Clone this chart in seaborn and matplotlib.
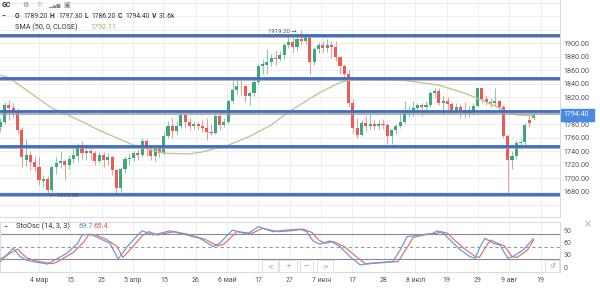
import numpy as np
import matplotlib
matplotlib.use("Agg")
import matplotlib.pyplot as plt
import seaborn as sns
from matplotlib.patches import Rectangle

sns.set_theme(style="white")
plt.rcParams['font.family'] = ['Roboto', 'DejaVu Sans']

# ---------------- data ----------------
opens = [1776, 1784, 1808, 1804, 1799, 1771, 1727, 1735, 1724, 1716,
         1696, 1699, 1683, 1716, 1723, 1726, 1719, 1729, 1733, 1748,
         1737, 1741, 1737, 1725, 1734, 1727, 1732, 1712, 1685, 1713,
         1729, 1730, 1737, 1734, 1755, 1744, 1733, 1745, 1737, 1763,
         1777, 1770, 1778, 1793, 1783, 1777, 1780, 1778, 1774, 1768,
         1767, 1792, 1779, 1784, 1815, 1831, 1837, 1836, 1822, 1827,
         1843, 1866, 1868, 1872, 1878, 1877, 1883, 1898, 1902, 1895,
         1906, 1904, 1909, 1872, 1891, 1897, 1893, 1898, 1895, 1879,
         1866, 1855, 1812, 1774, 1764, 1782, 1778, 1780, 1777, 1781,
         1779, 1762, 1771, 1777, 1784, 1796, 1801, 1804, 1809, 1806,
         1809, 1826, 1830, 1812, 1815, 1810, 1801, 1806, 1801, 1797,
         1800, 1807, 1833, 1817, 1813, 1812, 1814, 1805, 1763, 1727,
         1733, 1752, 1753, 1786, 1789.2]
highs = [1790, 1813, 1816, 1812, 1804, 1776, 1758, 1740, 1733, 1731,
         1705, 1704, 1719, 1731, 1740, 1728, 1734, 1746, 1752, 1755,
         1747, 1748, 1741, 1739, 1739, 1737, 1733, 1714, 1717, 1733,
         1737, 1741, 1744, 1759, 1758, 1747, 1748, 1748, 1768, 1785,
         1790, 1785, 1797, 1797, 1789, 1785, 1783, 1786, 1790, 1781,
         1798, 1799, 1790, 1818, 1845, 1845, 1845, 1838, 1830, 1845,
         1869, 1877, 1891, 1884, 1890, 1888, 1900, 1913, 1909, 1913,
         1919.2, 1913, 1912, 1894, 1902, 1904, 1907, 1903, 1903, 1880,
         1869, 1861, 1818, 1790, 1787, 1792, 1795, 1787, 1787, 1788,
         1782, 1772, 1781, 1796, 1814, 1807, 1815, 1812, 1812, 1815,
         1830, 1834, 1833, 1822, 1820, 1813, 1811, 1810, 1813, 1807,
         1811, 1834, 1834, 1824, 1819, 1834, 1816, 1808, 1765, 1741,
         1756, 1758, 1782, 1792, 1797.3]
lows = [1768, 1780, 1786, 1790, 1765, 1717, 1718, 1712, 1711, 1690,
        1687, 1673.3, 1679, 1706, 1715, 1697, 1714, 1722, 1725, 1728,
        1727, 1727, 1719, 1723, 1717, 1720, 1705, 1677, 1680, 1707,
        1720, 1726, 1727, 1732, 1733, 1727, 1725, 1731, 1735, 1760,
        1760, 1766, 1774, 1775, 1771, 1773, 1772, 1768, 1756, 1762,
        1765, 1772, 1776, 1780, 1812, 1825, 1823, 1813, 1808, 1822,
        1840, 1855, 1855, 1866, 1868, 1874, 1877, 1893, 1886, 1888,
        1898, 1899, 1855, 1868, 1885, 1886, 1887, 1878, 1874, 1855,
        1845, 1806, 1767, 1760, 1762, 1770, 1773, 1772, 1771, 1773,
        1750, 1750, 1766, 1775, 1780, 1791, 1792, 1797, 1792, 1797,
        1805, 1820, 1808, 1794, 1797, 1795, 1796, 1789, 1790, 1791,
        1794, 1805, 1812, 1808, 1806, 1807, 1800, 1759, 1678, 1713,
        1728, 1743, 1748, 1776, 1786.2]
closes = [1784, 1808, 1804, 1799, 1771, 1731, 1735, 1724, 1716, 1697,
          1699, 1683, 1716, 1723, 1726, 1719, 1729, 1735, 1748, 1737,
          1741, 1737, 1725, 1734, 1727, 1732, 1712, 1685, 1713, 1729,
          1730, 1737, 1734, 1755, 1744, 1733, 1745, 1737, 1763, 1777,
          1770, 1778, 1793, 1783, 1777, 1780, 1778, 1774, 1768, 1767,
          1792, 1779, 1784, 1815, 1831, 1837, 1836, 1822, 1827, 1843,
          1866, 1869, 1872, 1878, 1877, 1883, 1898, 1902, 1895, 1906,
          1904, 1909, 1872, 1891, 1897, 1893, 1898, 1895, 1879, 1866,
          1855, 1812, 1774, 1764, 1782, 1778, 1780, 1777, 1781, 1779,
          1762, 1771, 1777, 1784, 1796, 1801, 1804, 1809, 1806, 1809,
          1826, 1830, 1812, 1815, 1810, 1801, 1806, 1801, 1797, 1800,
          1807, 1833, 1817, 1813, 1812, 1814, 1805, 1763, 1727, 1733,
          1752, 1753, 1779, 1782, 1794.4]

sma_idx = [0, 2, 8, 12, 16, 19, 23, 27, 31, 38, 44, 47, 53, 58, 63, 67,
           74, 79, 82, 86, 94, 102, 108, 113, 117, 120, 124]
sma_val = [1853, 1849, 1822, 1804, 1793, 1784, 1771, 1760, 1749, 1737,
           1736, 1739, 1749, 1762, 1779, 1798, 1826, 1842, 1846, 1846,
           1845, 1838, 1826, 1813, 1801, 1794, 1792.11]

level_lines = [1912, 1849, 1799, 1748, 1677]

k_idx = [0, 3, 4.6, 6, 7.6, 11, 12, 15.5, 18, 19, 21, 23, 25.5, 27.4, 29.5,
         32, 33, 35.5, 39.5, 42.5, 46.4, 49.5, 51, 54, 57.4, 60, 63.4, 66.7,
         69.7, 71.3, 72.7, 74.3, 76.7, 79, 81.3, 83.7, 86, 91.3, 93, 94.6,
         97.6, 100.6, 101.6, 103, 104.6, 107, 109.2, 110.4, 111.6, 112.7,
         114.6, 116.2, 118, 119.2, 121.6, 124]
k_val = [14, 46, 26, 18, 14, 8, 14, 34, 58, 78, 80, 70, 58, 20, 50, 78, 88,
         78, 88, 80, 70, 50, 58, 90, 80, 98, 86, 90, 92, 86, 64, 56, 64, 50,
         26, 6, 10, 14, 42, 74, 78, 82, 88, 82, 66, 42, 26, 22, 50, 70, 58,
         54, 22, 26, 42, 69.7]
d_idx = [0, 4, 6, 8, 12, 13, 17, 19.5, 20.5, 22, 24.5, 27, 28.5, 30.5, 33,
         34.5, 36.5, 40.5, 43.5, 47.5, 50.5, 52, 55, 58.5, 61, 64.5, 67.5,
         70.5, 72.5, 74, 75.5, 77.5, 80, 82.5, 85, 87, 92.5, 94.5, 96, 98.5,
         101.5, 102.5, 104, 105.6, 108, 110.5, 111.4, 112.8, 114, 115.6,
         117.2, 119, 120.2, 122.6, 124]
d_val = [20, 44, 24, 16, 9, 12, 36, 62, 78, 79, 68, 52, 24, 46, 76, 86, 78,
         86, 80, 68, 52, 56, 86, 82, 94, 86, 88, 92, 84, 66, 58, 62, 50, 28,
         8, 10, 14, 46, 72, 78, 82, 86, 82, 66, 44, 26, 24, 48, 66, 58, 52,
         26, 24, 42, 65.4]

x_tick_labels = ["4 мар", "15", "25", "5 апр", "15", "26", "6 май", "17",
                 "27", "7 июн", "17", "28", "8 июл", "19", "29", "9 авг", "19"]
# 1800.00 is hidden under the current-price tag in the reference
price_ticks = [1680, 1700, 1720, 1740, 1760, 1780, 1820, 1840, 1860,
               1880, 1900]
stoch_ticks = [0, 30, 60, 90]

# ---------------- style ----------------
UP = "#3fa77a"
DN = "#ef5a55"
BLUE = "#3d6cc6"
GRID = "#efefef"
TXT = "#555555"

W, H = 600, 288
fig = plt.figure(figsize=(W / 100, H / 100), dpi=100)
fig.patch.set_facecolor("white")


def fx(px):
    return px / W


def fy(py):
    return 1 - py / H


ax = fig.add_axes([0, fy(217), 560 / W, 217 / H])
axs = fig.add_axes([0, fy(271.7), 560 / W, 50 / H])

n = len(closes)
idx = np.arange(n)
o = np.array(opens, float)
c = np.array(closes, float)
h = np.array(highs, float)
lo = np.array(lows, float)
col = np.where(c >= o, UP, DN)

xlim = (-0.07, 130.16)
tick_pos = 9 + 7.29 * np.arange(len(x_tick_labels))

# ---- main panel ----
for v in range(1660, 1961, 20):
    ax.axhline(v, color=GRID, lw=0.7, zorder=0)
for t in tick_pos:
    ax.axvline(t, color=GRID, lw=0.7, zorder=0)

ax.vlines(idx, lo, h, colors=col, lw=0.75, alpha=0.6, zorder=3)
ax.bar(idx, np.maximum(np.abs(c - o), 0.9), bottom=np.minimum(o, c),
       width=0.72, color=col, linewidth=0, zorder=4)

sns.lineplot(x=sma_idx, y=sma_val, ax=ax, color="#bccb93", lw=1.0,
             estimator=None, sort=False, zorder=5)

for v in level_lines:
    ax.axhline(v - 3.2, color="#9c9c9c", lw=1.3, alpha=0.85, zorder=6)
    ax.axhline(v, color=BLUE, lw=2.0, zorder=7)

ax.set_xlim(*xlim)
ax.set_ylim(1642.5, 1964.2)
ax.yaxis.tick_right()
ax.set_yticks(price_ticks)
ax.set_yticklabels([f"{v:.2f}" for v in price_ticks])
ax.tick_params(axis="y", length=0, pad=2.2, labelsize=5.2, labelcolor=TXT)
ax.set_xticks([])
for s in ["top", "left"]:
    ax.spines[s].set_visible(False)
for s in ["right", "bottom"]:
    ax.spines[s].set_color("#d9dde3")
    ax.spines[s].set_linewidth(0.8)
ax.set_xlabel("")
ax.set_ylabel("")

# ---- stochastic panel ----
for t in tick_pos:
    axs.axvline(t, color=GRID, lw=0.7, zorder=0)
axs.axhline(80, color="#8a8a8a", lw=0.8, zorder=1)
axs.axhline(20, color="#8a8a8a", lw=0.8, zorder=1)
axs.axhline(50, color="#9a9a9a", lw=0.8, ls=(0, (3, 2.5)), zorder=1)
sns.lineplot(x=d_idx, y=d_val, ax=axs, color="#e27373", lw=0.9,
             estimator=None, sort=False, zorder=3)
sns.lineplot(x=k_idx, y=k_val, ax=axs, color="#6f9ad8", lw=0.9,
             estimator=None, sort=False, zorder=4)
axs.set_xlim(*xlim)
axs.set_ylim(-10.4, 110)
axs.yaxis.tick_right()
axs.set_yticks(stoch_ticks)
axs.tick_params(axis="y", length=0, pad=2.5, labelsize=5.0, labelcolor=TXT)
axs.set_xticks(tick_pos)
axs.set_xticklabels(x_tick_labels)
axs.tick_params(axis="x", length=0, pad=3.8, labelsize=5.0, labelcolor=TXT)
for s in axs.spines.values():
    s.set_color("#d9dde3")
    s.set_linewidth(0.8)
axs.set_xlabel("")
axs.set_ylabel("")

# ---- header texts ----
fig.text(fx(2), fy(5), "GC", fontsize=5, weight="bold", color="#333333", va="center")
fig.text(fx(22), fy(5), "⚙", fontsize=5, color="#777777", va="center",
         family=["DejaVu Sans"])
fig.text(fx(37), fy(5), "D", fontsize=4.5, color="#aaaaaa", va="center")
fig.text(fx(49), fy(5), "▂▄▆", fontsize=3.5, color="#888888", va="center",
         family=["DejaVu Sans"])
fig.text(fx(63), fy(5), "▣", fontsize=5, color="#888888", va="center",
         family=["DejaVu Sans"])

row = [("−", 2, True), ("O", 15, True), ("1789.20", 23, False),
       ("H", 50, True), ("1797.30", 58, False), ("L", 85, True),
       ("1786.20", 91, False), ("C", 118, True), ("1794.40", 125, False),
       ("V", 152, True), ("31.6k", 159, False)]
for s, xp, b in row:
    fig.text(fx(xp), fy(16), s, fontsize=4.9, color="#333333", va="center",
             weight="bold" if b else "normal")
fig.text(fx(15), fy(27.7), "SMA (50, 0, CLOSE)", fontsize=5.2,
         color="#333333", va="center")
fig.text(fx(90), fy(27.7), "1792.11", fontsize=5.2, color="#8bbf4e", va="center")

fig.text(fx(4), fy(226.7), "−", fontsize=5, weight="bold", color="#333333", va="center")
fig.text(fx(16), fy(226.7), "StoOsc (14, 3, 3)", fontsize=5.3, color="#333333", va="center")
fig.text(fx(79), fy(226.7), "69.7", fontsize=5.4, color="#5b8ad0", va="center")
fig.text(fx(93), fy(226.7), "65.4", fontsize=5.4, color="#d05a5a", va="center")

# annotations of extremes
fig.text(fx(268), fy(31.7), "1919.20 →", fontsize=4.3, color="#555555", va="center")
fig.text(fx(50), fy(195.5), "← 1673.30", fontsize=4.3, color="#555555", va="center")

# current price tag
fig.patches.append(Rectangle((fx(561), fy(121)), (594 - 561) / W, 12 / H,
                             transform=fig.transFigure, color="#4a8ae0", zorder=5))
fig.text(fx(563.5), fy(115), "1794.40", fontsize=5.0, color="white", va="center",
         zorder=6)

# navigation widgets
for (x0, x1, sym) in [(262, 278, "<"), (279, 297, "+"), (300, 313, "−"),
                      (317, 333, ">"), (545, 559, "↺")]:
    fig.patches.append(Rectangle((fx(x0), fy(272)), (x1 - x0) / W, 12 / H,
                                 transform=fig.transFigure, facecolor="white",
                                 edgecolor="#dddddd", lw=0.6, zorder=5))
    fig.text(fx((x0 + x1) / 2), fy(266), sym, fontsize=5, color="#999999",
             ha="center", va="center", zorder=6, family=["DejaVu Sans"])
fig.text(fx(588), fy(224), "×", fontsize=7, color="#aaaaaa", ha="center",
         va="center", family=["DejaVu Sans"])

fig.savefig("out.png", dpi=100, facecolor="white")
